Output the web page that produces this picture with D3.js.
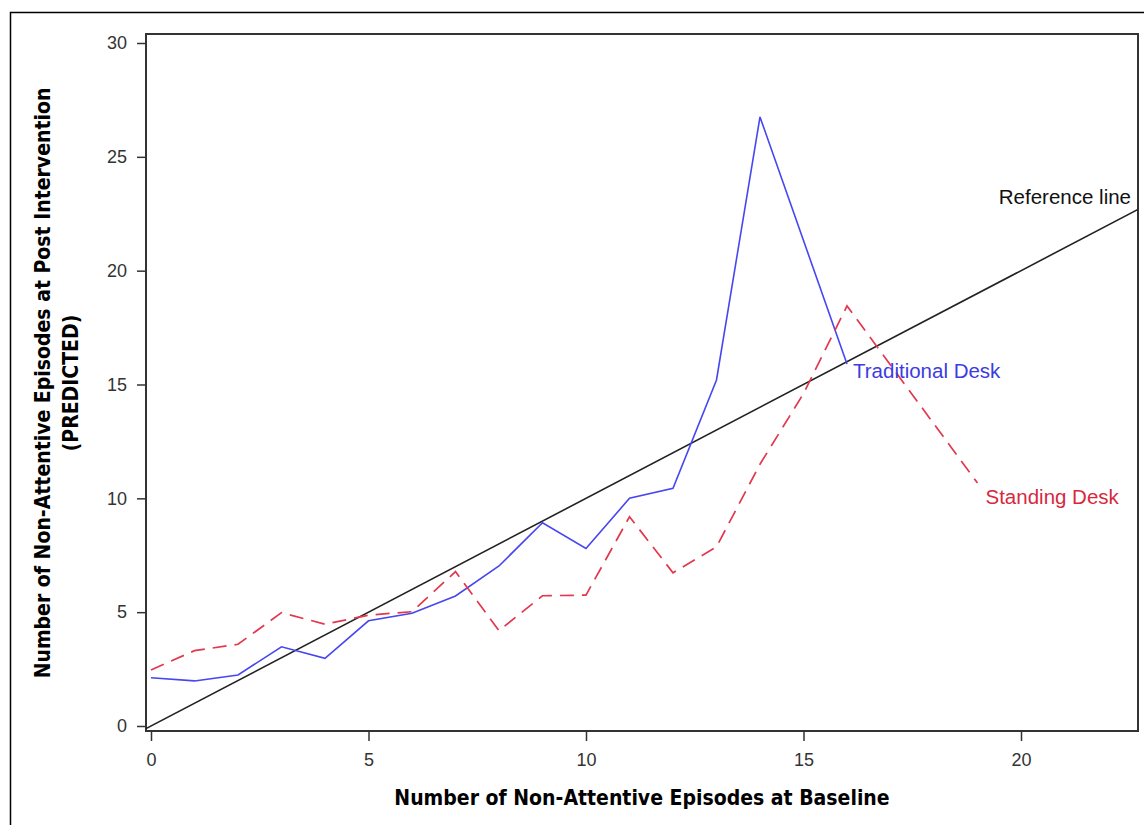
<!DOCTYPE html>
<html>
<head>
<meta charset="utf-8">
<script src="https://cdn.jsdelivr.net/npm/d3@7"></script>
<style>
  body { margin: 0; background: #fff; }
  .tick text { font-family: "Liberation Sans", Arial, sans-serif; font-size: 18px; fill: #333; }
  .tick line { stroke: #333; stroke-width: 1.5; }
  .title { font-family: "Liberation Sans Narrow", "Arial Narrow", "DejaVu Sans Condensed", sans-serif; font-weight: bold; font-size: 21px; fill: #000; }
  .lbl { font-family: "Liberation Sans", Arial, sans-serif; font-size: 20.5px; }
</style>
</head>
<body>
<div id="chart"></div>
<script>
// baseline episodes (x) and predicted post-intervention values
var tradX = [0, 1, 2, 3, 4, 5, 6, 7, 8, 9, 10, 11, 12, 13, 14, 16];
var tradY = [2.12, 1.98, 2.24, 3.48, 2.97, 4.62, 4.95, 5.71, 7.03, 8.93, 7.8, 10.0, 10.44, 15.2, 26.75, 15.9];

var standX = [0, 1, 2, 3, 4, 5, 6, 7, 8, 9, 10, 11, 12, 13, 14, 15, 16, 19];
var standY = [2.46, 3.31, 3.59, 4.98, 4.47, 4.87, 5.02, 6.78, 4.19, 5.72, 5.75, 9.19, 6.73, 7.87, 11.5, 14.6, 18.45, 10.67];

var xTicks = [0, 5, 10, 15, 20];
var yTicks = [0, 5, 10, 15, 20, 25, 30];

var width = 1144, height = 825;

// plot frame
var frame = {left: 146, top: 34, right: 1138, bottom: 731};

var svg = d3.select("#chart")
  .append("svg")
    .attr("width", width)
    .attr("height", height);

// outer border
svg.append("rect")
  .attr("x", 10.5).attr("y", 12.5)
  .attr("width", width + 10).attr("height", height + 10)
  .attr("fill", "none")
  .attr("stroke", "#000")
  .attr("stroke-width", 1.5);

var x = d3.scaleLinear().domain([0, 20]).range([151, 1021]);
var y = d3.scaleLinear().domain([0, 30]).range([726, 43]);

svg.append("clipPath").attr("id", "clip")
  .append("rect")
    .attr("x", frame.left).attr("y", frame.top)
    .attr("width", frame.right - frame.left)
    .attr("height", frame.bottom - frame.top);

// axes
var yAxis = svg.append("g")
  .attr("transform", "translate(" + frame.left + ",0)")
  .call(d3.axisLeft(y).tickValues(yTicks).tickSize(9).tickPadding(10));
yAxis.select(".domain").remove();

var xAxis = svg.append("g")
  .attr("transform", "translate(0," + frame.bottom + ")")
  .call(d3.axisBottom(x).tickValues(xTicks).tickSize(10).tickPadding(12));
xAxis.select(".domain").remove();

// frame
svg.append("rect")
  .attr("x", frame.left).attr("y", frame.top)
  .attr("width", frame.right - frame.left)
  .attr("height", frame.bottom - frame.top)
  .attr("fill", "none")
  .attr("stroke", "#333")
  .attr("stroke-width", 2);

var plot = svg.append("g").attr("clip-path", "url(#clip)");

// reference line y = x
var xMin = x.invert(frame.left), xMax = x.invert(frame.right);
plot.append("line")
  .attr("x1", x(xMin)).attr("y1", y(xMin))
  .attr("x2", x(xMax)).attr("y2", y(xMax))
  .attr("stroke", "#222")
  .attr("stroke-width", 1.6);

var line = d3.line()
  .x(function(d) { return x(d[0]); })
  .y(function(d) { return y(d[1]); });

plot.append("path")
  .datum(d3.zip(tradX, tradY))
  .attr("d", line)
  .attr("fill", "none")
  .attr("stroke", "#4646f2")
  .attr("stroke-width", 1.6);

plot.append("path")
  .datum(d3.zip(standX, standY))
  .attr("d", line)
  .attr("fill", "none")
  .attr("stroke", "#e2384e")
  .attr("stroke-width", 1.7)
  .attr("stroke-dasharray", "14,8");

// curve labels
svg.append("text").attr("class", "lbl")
  .attr("x", 1131).attr("y", 197).attr("dy", "0.35em")
  .attr("text-anchor", "end").attr("fill", "#111")
  .text("Reference line");

svg.append("text").attr("class", "lbl")
  .attr("x", x(tradX[tradX.length - 1]) + 6).attr("y", 371).attr("dy", "0.35em")
  .attr("fill", "#3c3ce0")
  .text("Traditional Desk");

svg.append("text").attr("class", "lbl")
  .attr("x", x(standX[standX.length - 1]) + 8).attr("y", 497).attr("dy", "0.35em")
  .attr("fill", "#d8283e")
  .text("Standing Desk");

// axis titles
svg.append("text").attr("class", "title")
  .attr("x", (frame.left + frame.right) / 2).attr("y", 798).attr("dy", "0.35em")
  .attr("text-anchor", "middle")
  .text("Number of Non-Attentive Episodes at Baseline");

var yt = svg.append("text").attr("class", "title")
  .attr("transform", "translate(43,383) rotate(-90)")
  .attr("text-anchor", "middle");
yt.append("tspan").attr("x", 0).attr("dy", "0.35em").text("Number of Non-Attentive Episodes at Post Intervention");
yt.append("tspan").attr("x", 0).attr("dy", "1.3em").text("(PREDICTED)");
</script>
</body>
</html>
